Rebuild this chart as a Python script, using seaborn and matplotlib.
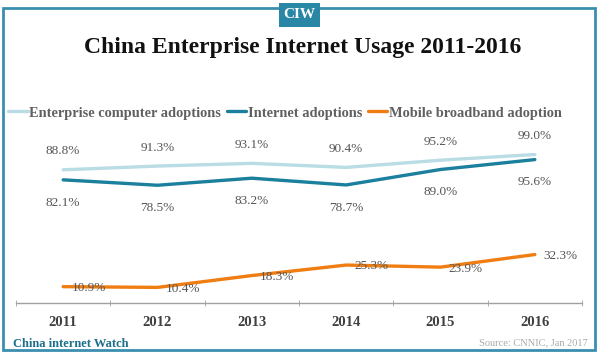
import pandas as pd
import matplotlib
matplotlib.use('Agg')
import matplotlib.pyplot as plt
import seaborn as sns
from matplotlib.patches import Rectangle

years = ['2011', '2012', '2013', '2014', '2015', '2016']
computer = [88.8, 91.3, 93.1, 90.4, 95.2, 99.0]
internet = [82.1, 78.5, 83.2, 78.7, 89.0, 95.6]
mobile = [10.9, 10.4, 18.3, 25.3, 23.9, 32.3]
series_names = ['Enterprise computer adoptions', 'Internet adoptions', 'Mobile broadband adoption']
colors = ['#b9dce5', '#1b7f9e', '#f07d12']

rows = []
for name, vals in zip(series_names, [computer, internet, mobile]):
    for i, v in enumerate(vals):
        rows.append({'idx': i, 'value': v, 'series': name})
df = pd.DataFrame(rows)

sns.set_style('white')
plt.rcParams['font.family'] = ['Liberation Serif', 'DejaVu Serif']

fig = plt.figure(figsize=(6, 3.55), dpi=100)
ax = fig.add_axes([16/600, 1-303/355, 566/600, 150/355])
sns.lineplot(data=df, x='idx', y='value', hue='series', palette=colors, ax=ax, linewidth=2.4, legend=True)

ax.set_xlim(-0.5, 5.5)
ax.set_ylim(0, 100)
ax.set_xlabel(None)
ax.set_ylabel(None)
for s in ['top', 'right', 'left']:
    ax.spines[s].set_visible(False)
ax.spines['bottom'].set_color('#a0a0a0')
ax.spines['bottom'].set_linewidth(1)
ax.set_yticks([])
ax.set_xticks(range(6))
ax.set_xticklabels(years, fontsize=10.5, fontweight='bold', color='#404040')
ax.set_xticks([i - 0.5 for i in range(7)], minor=True)
ax.tick_params(axis='x', which='major', length=0, pad=9)
ax.tick_params(axis='x', which='minor', length=4, color='#a0a0a0', direction='inout', bottom=True)

lab = dict(fontsize=9.5, color='#555555')
for i, v in enumerate(computer):
    ax.annotate(f'{v:.1f}%', (i, v), xytext=(0, 9), textcoords='offset points', ha='center', va='bottom', **lab)
for i, v in enumerate(internet):
    ax.annotate(f'{v:.1f}%', (i, v), xytext=(0, -12), textcoords='offset points', ha='center', va='top', **lab)
for i, v in enumerate(mobile):
    ax.annotate(f'{v:.1f}%', (i, v), xytext=(6, -1), textcoords='offset points', ha='left', va='center', **lab)

handles, labels = ax.get_legend_handles_labels()
ax.get_legend().remove()
fig.legend(handles, labels, loc='center left', bbox_to_anchor=(8/600, 1-113/355), ncol=3,
           frameon=False, handlelength=1.35, handletextpad=0.1, columnspacing=0.4,
           borderpad=0, borderaxespad=0, prop={'size': 10.4, 'weight': 'bold'}, labelcolor='#606060')

fig.text(0.505, 1-47/355, 'China Enterprise Internet Usage 2011-2016', ha='center', va='center',
         fontsize=17, fontweight='bold', color='#111111')

# frame and logo
fig.patches.append(Rectangle((3/600, 5/355), 592/600, 342/355, transform=fig.transFigure,
                             fill=False, edgecolor='#3a8fb0', linewidth=2))
fig.patches.append(Rectangle((279/600, 1-27/355), 41/600, 24/355, transform=fig.transFigure,
                             facecolor='#2a86a5', edgecolor='none'))
fig.text(299.5/600, 1-15/355, 'CIW', ha='center', va='center', fontsize=11, fontweight='bold', color='white')

fig.text(13/600, 1-344/355, 'China internet Watch', ha='left', va='center', fontsize=9,
         fontweight='bold', color='#1d6f8c')
fig.text(588/600, 1-343/355, 'Source: CNNIC, Jan 2017', ha='right', va='center', fontsize=7.5,
         color='#aaaaaa')

fig.savefig('out.png', dpi=100)
